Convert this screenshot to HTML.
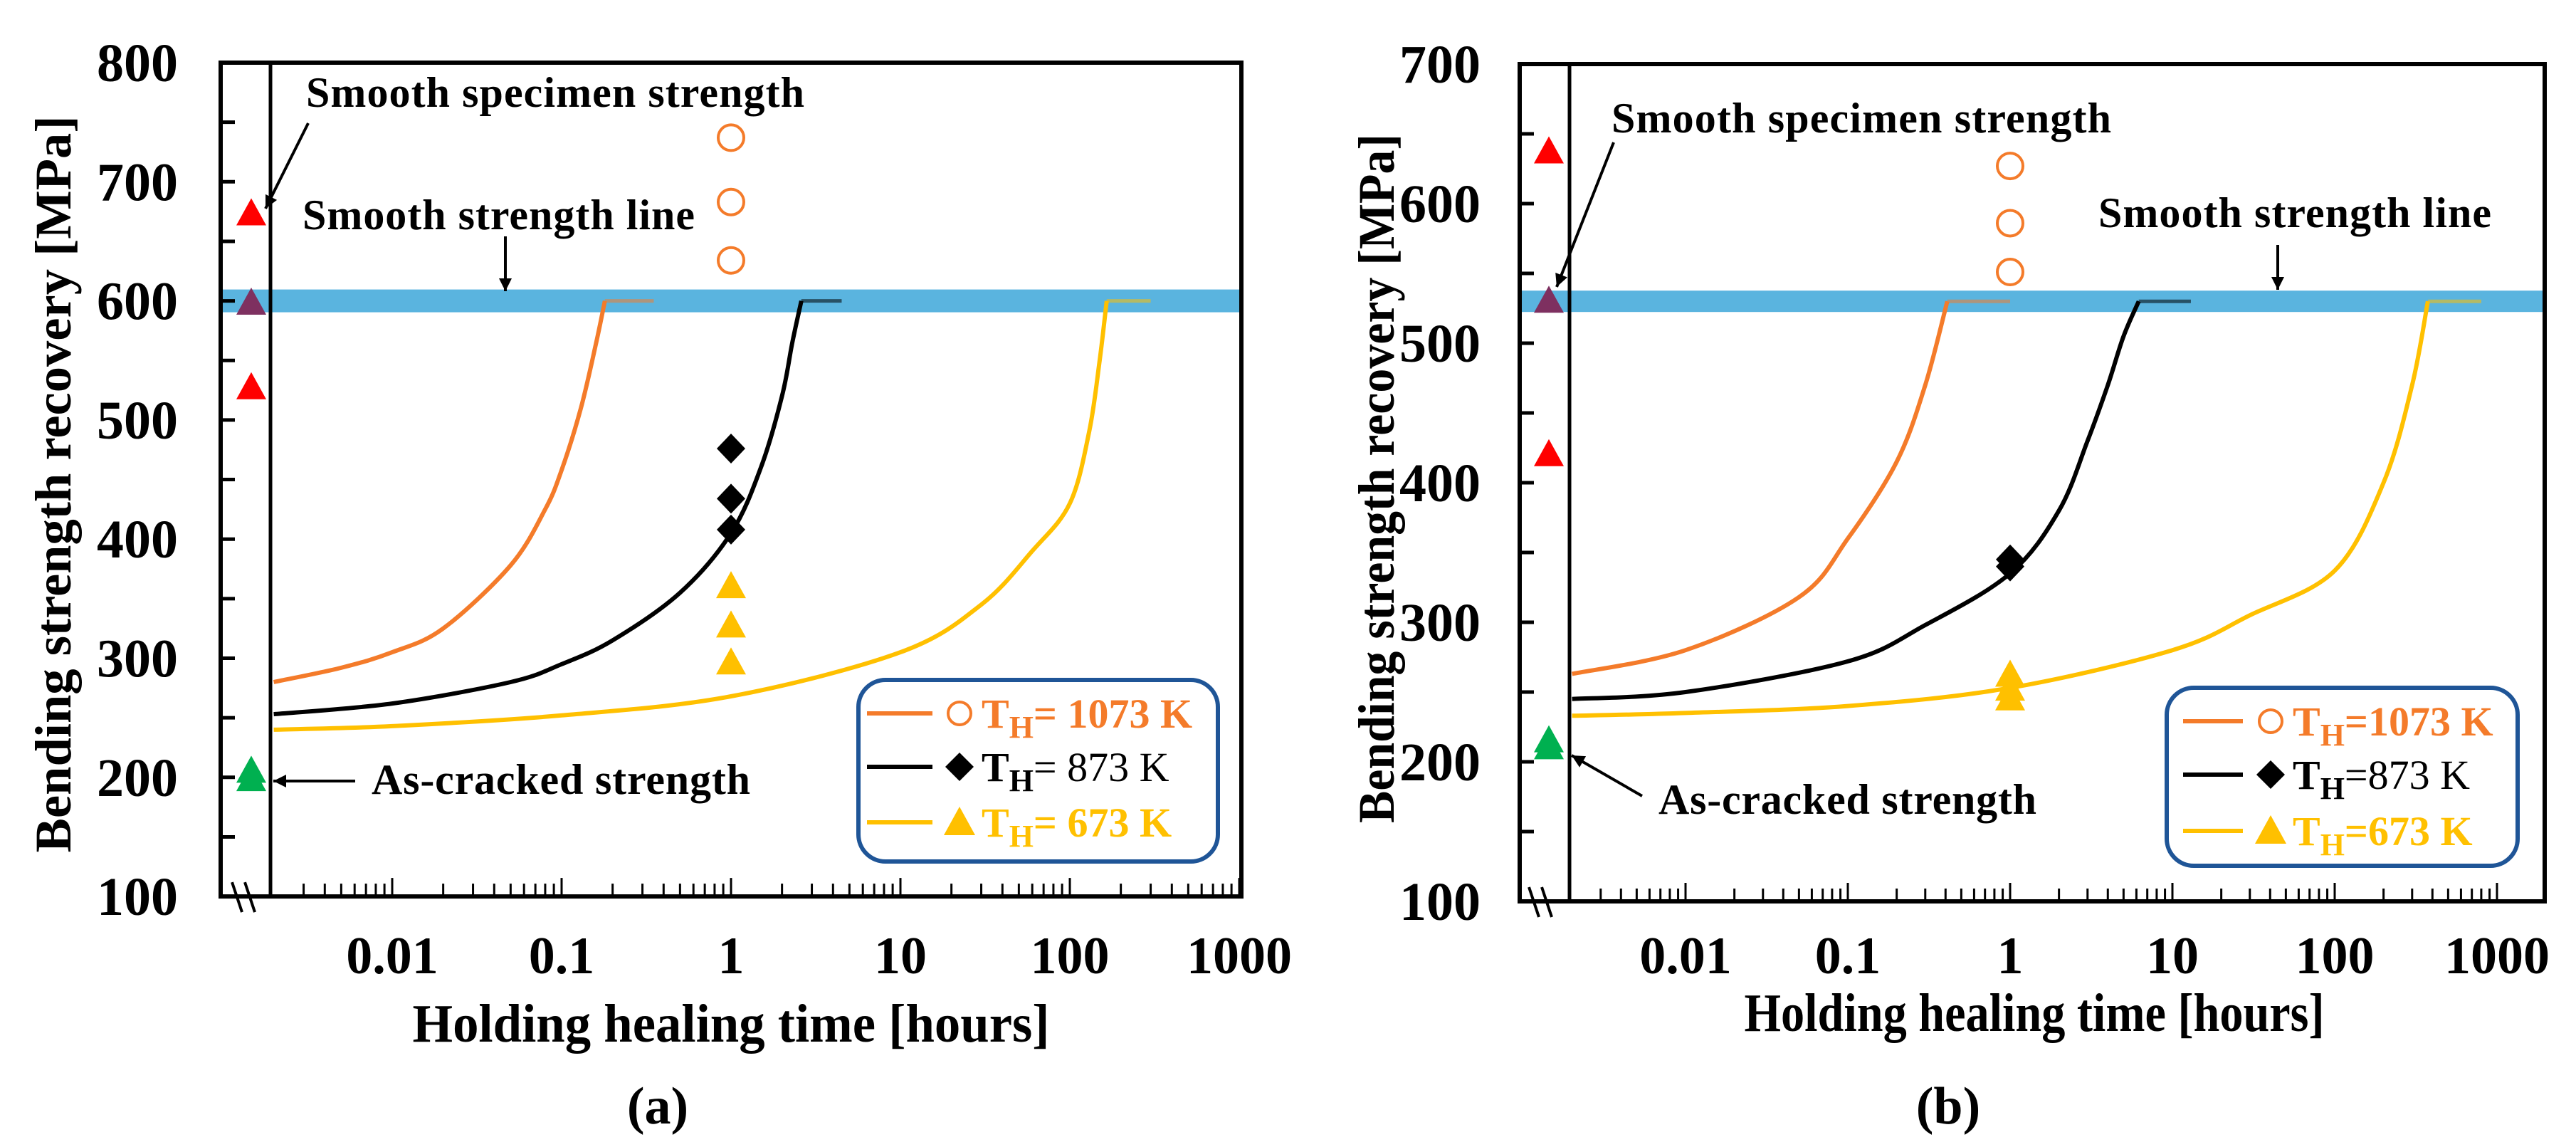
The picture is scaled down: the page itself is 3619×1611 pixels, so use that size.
<!DOCTYPE html>
<html><head><meta charset="utf-8"><style>
html,body{margin:0;padding:0;background:#fff}
svg{display:block}
text{font-family:"Liberation Serif",serif;font-weight:bold}
</style></head><body>
<svg id="fig" width="3619" height="1611" viewBox="0 0 3619 1611" xmlns="http://www.w3.org/2000/svg"></svg>
<script>
// ---------- data (panel a) ----------
const aOrangeT=[0.002,0.005,0.01,0.02,0.05,0.08,0.1,0.13,0.16,0.18];
const aOrangeY=[280,292,305,325,378,425,458,510,565,600];
const aBlackT=[0.002,0.01,0.05,0.1,0.2,0.5,1,1.5,2,2.3,2.6];
const aBlackY=[253,262,280,295,315,355,405,460,520,565,600];
const aYellowT=[0.002,0.01,0.1,1,10,30,60,100,130,150,165];
const aYellowY=[240,243,252,268,305,345,390,430,490,550,600];
const aFlatT=[[0.18,0.35],[2.6,4.5],[165,300]];
const aSmooth=600;
const aRedTri=[673,527];
const aPurpleTri=[598];
const aGreenTri=[205,198];
const aCircles=[737,683,634];
const aDiamonds=[476,434,408];
const aYellowTri=[360,327,296];
const aYTicks=[100,200,300,400,500,600,700,800];
// ---------- data (panel b) ----------
const bOrangeT=[0.002,0.01,0.05,0.1,0.2,0.3,0.41];
const bOrangeY=[263,280,318,360,415,470,530];
const bBlackT=[0.002,0.01,0.1,0.3,1,2,3,4,5,6.2];
const bBlackY=[245,250,272,298,335,380,430,470,505,530];
const bYellowT=[0.002,0.01,0.1,1,10,30,100,200,300,375];
const bYellowY=[233,235,240,253,280,305,337,400,470,530];
const bFlatT=[[0.41,1],[6.2,13],[375,800]];
const bSmooth=530;
const bRedTri=[637,420];
const bPurpleTri=[530];
const bGreenTri=[215,210];
const bCircles=[627,586,551];
const bDiamonds=[345,340];
const bYellowTri=[262,252,245];
const bYTicks=[100,200,300,400,500,600,700];
const xTickLabels=["0.01","0.1","1","10","100","1000"];
const xTickVals=[0.01,0.1,1,10,100,1000];

const NS="http://www.w3.org/2000/svg";
const svg=document.getElementById('fig');
function mk(tag,attrs,parent){const e=document.createElementNS(NS,tag);for(const k in attrs)e.setAttribute(k,attrs[k]);(parent||svg).appendChild(e);return e;}

const ORANGE="#f47b2a",YELLOW="#ffc000",BLUE="#5ab4df";

function smoothPath(P){
  let d='M'+P[0][0].toFixed(1)+' '+P[0][1].toFixed(1);
  for(let i=0;i<P.length-1;i++){
    const p0=P[i-1]||P[i],p1=P[i],p2=P[i+1],p3=P[i+2]||P[i+1];
    const c1=[p1[0]+(p2[0]-p0[0])/6,p1[1]+(p2[1]-p0[1])/6];
    const c2=[p2[0]-(p3[0]-p1[0])/6,p2[1]-(p3[1]-p1[1])/6];
    d+=` C${c1[0].toFixed(1)} ${c1[1].toFixed(1)} ${c2[0].toFixed(1)} ${c2[1].toFixed(1)} ${p2[0].toFixed(1)} ${p2[1].toFixed(1)}`;
  }
  return d;
}

function panel(p){
  const g=mk('g',{});
  
  
  const xs=t=>p.x0+(Math.log10(t)+3)*p.dec;
  const ys=v=>p.top+(p.ymax-v)/100*p.per100;
  const bottom=ys(100);
  const band=mk('rect',{x:p.left,y:ys(p.smooth)-p.bandH/2,width:p.right-p.left,height:p.bandH,fill:BLUE},g);
  
  
  const fr=mk('rect',{x:p.left,y:p.top,width:p.right-p.left,height:bottom-p.top,fill:'none',stroke:'#000','stroke-width':6},g);
  
  
  const vl=mk('line',{x1:p.vline,y1:p.top,x2:p.vline,y2:bottom,stroke:'#000','stroke-width':5},g);
  
  
  [0,18].forEach(d=>{const b=mk('line',{x1:p.brk+d-7,y1:bottom-20,x2:p.brk+d+7,y2:bottom+22,stroke:'#000','stroke-width':4},g);
    });
  for(let v=100;v<=p.ymax;v+=50){mk('line',{x1:p.left,y1:ys(v),x2:p.left+20,y2:ys(v),stroke:'#000','stroke-width':5},g);}
  p.yTicks.forEach(v=>{const t=mk('text',{x:p.ylabX,y:ys(v)+26,'font-size':76,'text-anchor':'end'},g);t.textContent=v;
    });
  for(let e=-3;e<3;e++){for(let m=1;m<=9;m++){const t=m*Math.pow(10,e);if(t<0.0029)continue;const X=xs(t);
    mk('line',{x1:X,y1:bottom,x2:X,y2:bottom-(m==1?26:18),stroke:'#000','stroke-width':3},g);}}
  mk('line',{x1:xs(1000),y1:bottom,x2:xs(1000),y2:bottom-26,stroke:'#000','stroke-width':3},g);
  xTickVals.forEach((v,i)=>{const t=mk('text',{x:xs(v),y:p.xlabY,'font-size':74,'text-anchor':'middle'},g);t.textContent=xTickLabels[i];
    });
  const xt=mk('text',{x:p.xtX,y:p.xtY,'font-size':76,'text-anchor':'middle',textLength:p.xtLen,lengthAdjust:'spacingAndGlyphs'},g);xt.textContent='Holding healing time [hours]';
  
  const yt=mk('text',{x:0,y:0,'font-size':72,'text-anchor':'middle',textLength:p.ytLen,lengthAdjust:'spacingAndGlyphs',transform:`translate(${p.ytX},${p.ytY}) rotate(-90)`},g);yt.textContent='Bending strength recovery [MPa]';
  
  const pl=mk('text',{x:p.plX,y:1578,'font-size':74,'text-anchor':'middle'},g);pl.textContent=p.label;
  
  const curves=[[p.oT,p.oY,ORANGE,'curve-1073k'],[p.kT,p.kY,'#000','curve-873k'],[p.yT,p.yY,YELLOW,'curve-673k']];
  curves.forEach((c,i)=>{
    const pts=c[0].map((t,j)=>[xs(t),ys(c[1][j])]);
    const path=mk('path',{d:smoothPath(pts),fill:'none',stroke:c[2],'stroke-width':6},g);
    
    const f=p.flat[i];
    const fl=mk('line',{x1:xs(f[0]),y1:ys(p.smooth),x2:xs(f[1]),y2:ys(p.smooth),stroke:c[2],'stroke-width':5,'stroke-opacity':0.55},g);
    
  });
  const tri=(cx,v,col,name)=>{const cy=ys(v);const m=mk('path',{d:`M${cx} ${cy-22}L${cx+21} ${cy+16}L${cx-21} ${cy+16}Z`,fill:col},g);
    };
  p.red.forEach(v=>tri(p.mx,v,'#ff0000','smooth-specimen-point'));
  p.purple.forEach(v=>tri(p.mx,v,'#7e3060','smooth-specimen-point'));
  p.green.forEach(v=>tri(p.mx,v,'#00b050','as-cracked-point'));
  const X1=xs(1);
  p.circ.forEach(v=>{const c=mk('circle',{cx:X1,cy:ys(v),r:18,fill:'none',stroke:ORANGE,'stroke-width':4},g);
    });
  p.dia.forEach(v=>{const cy=ys(v);const c=mk('path',{d:`M${X1} ${cy-21}L${X1+20} ${cy}L${X1} ${cy+21}L${X1-20} ${cy}Z`,fill:'#000'},g);
    });
  p.ytri.forEach(v=>tri(X1,v,YELLOW,'point-673k'));
  const ann=(txt,x,y,len,name)=>{const t=mk('text',{x:x,y:y,'font-size':60,textLength:len,lengthAdjust:'spacing'},g);t.textContent=txt;};
  const arrow=(x1,y1,x2,y2,name)=>{const a=mk('line',{x1,y1,x2,y2,stroke:'#000','stroke-width':4},g);
    
    const ang=Math.atan2(y2-y1,x2-x1),L=18,W=9;
    const bx=x2-L*Math.cos(ang),by=y2-L*Math.sin(ang);
    mk('path',{d:`M${x2} ${y2}L${bx-W*Math.sin(ang)} ${by+W*Math.cos(ang)}L${bx+W*Math.sin(ang)} ${by-W*Math.cos(ang)}Z`,fill:'#000'},g);};
  ann('Smooth specimen strength',p.a1[0],p.a1[1],p.a1[2],'smooth-specimen-label');arrow(...p.a1arr,'smooth-specimen-arrow');
  ann('Smooth strength line',p.a2[0],p.a2[1],p.a2[2],'smooth-line-label');arrow(...p.a2arr,'smooth-line-arrow');
  ann('As-cracked strength',p.a3[0],p.a3[1],p.a3[2],'as-cracked-label');arrow(...p.a3arr,'as-cracked-arrow');
  const L=p.leg;
  const lb=mk('rect',{x:L.x,y:L.y,width:L.w,height:L.h,rx:38,fill:'#fff',stroke:'#1f5597','stroke-width':6},g);
  
  const rows=[[ORANGE,'circle',p.leg1,L.len[0]],[ '#000','diamond',p.leg2,L.len[1]],[YELLOW,'tri',p.leg3,L.len[2]]];
  rows.forEach((r,i)=>{
    const by=L.rows[i], cy=by-20;
    const ln=mk('line',{x1:L.lx1,y1:cy,x2:L.lx2,y2:cy,stroke:r[0],'stroke-width':6},g);
    
    const mx=L.mx;
    if(r[1]=='circle')mk('circle',{cx:mx,cy:cy,r:16,fill:'none',stroke:r[0],'stroke-width':4},g);
    else if(r[1]=='diamond')mk('path',{d:`M${mx} ${cy-20}L${mx+20} ${cy}L${mx} ${cy+20}L${mx-20} ${cy}Z`,fill:'#000'},g);
    else mk('path',{d:`M${mx} ${cy-22}L${mx+22} ${cy+18}L${mx-22} ${cy+18}Z`,fill:r[0]},g);
    const t=mk('text',{x:L.tx,y:by,'font-size':58,fill:r[0]},g);
    
    const s1=mk('tspan',{},t);s1.textContent='T';
    const s2=mk('tspan',{dy:14,'font-size':44},t);s2.textContent='H';
    const s3=mk('tspan',{dy:-14,'font-weight':(i==1?'normal':'bold')},t);s3.textContent=r[2];
  });
}

panel({name:'panel-a',label:'(a)',left:310,right:1744,top:88,ymax:800,per100:167.3,x0:313,dec:238,vline:380,brk:333,
  smooth:aSmooth,bandH:32,yTicks:aYTicks,ylabX:250,xlabY:1367,xtX:1027,xtY:1463,xtLen:895,ytX:99,ytY:680,ytLen:1035,plX:924,
  oT:aOrangeT,oY:aOrangeY,kT:aBlackT,kY:aBlackY,yT:aYellowT,yY:aYellowY,flat:aFlatT,
  red:aRedTri,purple:aPurpleTri,green:aGreenTri,circ:aCircles,dia:aDiamonds,ytri:aYellowTri,mx:353,
  a1:[430,150,700],a1arr:[433,173,373,293],a2:[425,322,551],a2arr:[710,332,710,409],a3:[522,1115,532],a3arr:[499,1097,384,1097],
  leg:{x:1206,y:955,w:505,h:255,rows:[1022,1097,1175],lx1:1218,lx2:1310,mx:1348,tx:1379,len:[305,270,270]},
  leg1:'= 1073 K',leg2:'= 873 K',leg3:'= 673 K'});

panel({name:'panel-b',label:'(b)',left:2135,right:3575,top:90,ymax:700,per100:196,x0:2140,dec:228,vline:2205,brk:2155,
  smooth:bSmooth,bandH:30,yTicks:bYTicks,ylabX:2080,xlabY:1367,xtX:2858,xtY:1448,xtLen:815,ytX:1958,ytY:672,ytLen:968,plX:2737,
  oT:bOrangeT,oY:bOrangeY,kT:bBlackT,kY:bBlackY,yT:bYellowT,yY:bYellowY,flat:bFlatT,
  red:bRedTri,purple:bPurpleTri,green:bGreenTri,circ:bCircles,dia:bDiamonds,ytri:bYellowTri,mx:2176,
  a1:[2264,186,702],a1arr:[2267,200,2187,403],a2:[2948,319,552],a2arr:[3200,344,3200,407],a3:[2330,1143,531],a3arr:[2307,1118,2208,1061],
  leg:{x:3044,y:966,w:493,h:250,rows:[1033,1108,1187],lx1:3067,lx2:3151,mx:3190,tx:3221,len:[300,265,265]},
  leg1:'=1073 K',leg2:'=873 K',leg3:'=673 K'});
</script>
</body></html>
